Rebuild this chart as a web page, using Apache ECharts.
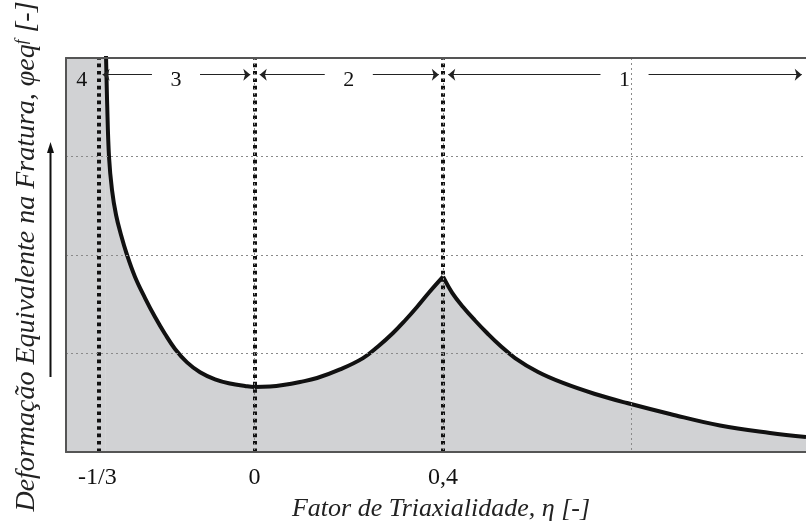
<!DOCTYPE html>
<html>
<head>
<meta charset="utf-8">
<script src="https://cdn.jsdelivr.net/npm/echarts@6/dist/echarts.min.js"></script>
<style>
html,body{margin:0;padding:0;background:#fff;}
#chart{width:806px;height:527px;}
</style>
</head>
<body>
<div id="chart"></div>
<script>
// ---- data ----
const etaLeft  = [-0.317, -0.315, -0.3129, -0.3087, -0.3024, -0.2938, -0.2832, -0.2705, -0.2535, -0.2323, -0.2111, -0.1899, -0.1687, -0.1432, -0.1156, -0.0838, -0.052, -0.0202, 0.0, 0.0329, 0.0605, 0.0965, 0.1326, 0.1814, 0.2302, 0.262, 0.2938, 0.3193, 0.3447, 0.3702, 0.4];
const phiLeft  = [4.3, 4.0, 3.574, 2.995, 2.66, 2.406, 2.203, 2.0, 1.777, 1.563, 1.37, 1.198, 1.046, 0.91, 0.81, 0.738, 0.695, 0.67, 0.66, 0.665, 0.68, 0.711, 0.751, 0.838, 0.953, 1.071, 1.208, 1.335, 1.472, 1.619, 1.78];
const etaRight = [0.4, 0.419, 0.4424, 0.4678, 0.4933, 0.5209, 0.5527, 0.6015, 0.6545, 0.7224, 0.7903, 0.8815, 0.9876, 1.0937, 1.17];
const phiRight = [1.78, 1.619, 1.472, 1.335, 1.208, 1.081, 0.954, 0.812, 0.701, 0.589, 0.497, 0.386, 0.269, 0.193, 0.152];
const boundaries = [-1/3, 0, 0.4];                    // region limits (dotted lines)
const tickValues = [-1/3, 0, 0.4];
const tickLabels = ['-1/3', '0', '0,4'];
const regionNames = ['4', '3', '2', '1'];
const regionLimits = [[-0.4, -1/3], [-1/3, 0], [0, 0.4], [0.4, 1.17]];
const xTitle = 'Fator de Triaxialidade, η [-]';
const yTitle = 'Deformação Equivalente na Fratura, φeq{sup|f} [-]';

const FONT = "'Liberation Serif','DejaVu Serif',serif";
const zip = (a, b) => a.map((v, i) => [v, b[i]]);
const leftPts = zip(etaLeft, phiLeft);
const rightPts = zip(etaRight, phiRight);

const X_MIN = -0.4, X_MAX = 1.17, Y_MAX = 4;
const arrowY = 3.83, labelY = 3.77;
const gapLo = 0.011, gapHi = 0.009, labelGap = 0.051;

const arrowLines = [];
regionLimits.forEach((r, i) => {
  if (i === 0) return;
  const mid = (r[0] + r[1]) / 2;
  arrowLines.push([{coord: [r[0] + gapLo, arrowY], symbol: 'arrow'}, {coord: [mid - labelGap, arrowY], symbol: 'none'}]);
  arrowLines.push([{coord: [mid + labelGap, arrowY], symbol: 'none'}, {coord: [r[1] - gapHi, arrowY], symbol: 'arrow'}]);
});
const regionLabelPts = regionLimits.map((r, i) => ({value: [(r[0] + r[1]) / 2, labelY], name: regionNames[i]}));

const chart = echarts.init(document.getElementById('chart'), null, {renderer: 'canvas'});
const gridLine = {show: true, lineStyle: {color: '#8a8a8a', width: 1, type: [2, 3]}};
const fill = '#d1d2d4';

chart.setOption({
  animation: false,
  backgroundColor: '#fff',
  grid: {left: 66, right: 0, top: 58, bottom: 75, containLabel: false, outerBoundsMode: 'none'},
  xAxis: [{
    type: 'value', min: X_MIN, max: X_MAX, interval: 0.4, z: 10,
    axisLine: {show: true, onZero: false, lineStyle: {color: '#555', width: 2}},
    axisTick: {show: false},
    splitLine: gridLine,
    axisLabel: {
      customValues: tickValues, margin: 14,
      formatter: v => { const i = tickValues.findIndex(t => Math.abs(t - v) < 1e-6); return i >= 0 ? tickLabels[i] : ''; },
      fontFamily: FONT, fontSize: 24, color: '#111'
    },
    name: xTitle, nameLocation: 'middle', nameGap: 44,
    nameTextStyle: {fontFamily: FONT, fontStyle: 'italic', fontSize: 26, color: '#222', padding: [0, 0, 0, 10]}
  }, {
    type: 'value', min: X_MIN, max: X_MAX, position: 'top', z: 10,
    axisLine: {show: true, onZero: false, lineStyle: {color: '#555', width: 2}},
    axisTick: {show: false}, axisLabel: {show: false}, splitLine: {show: false}
  }],
  yAxis: {
    type: 'value', min: 0, max: Y_MAX, interval: 1, z: 10,
    axisLine: {show: true, onZero: false, lineStyle: {color: '#555', width: 2}},
    axisTick: {show: false}, axisLabel: {show: false},
    splitLine: gridLine,
    name: yTitle, nameLocation: 'middle', nameGap: 25,
    nameTextStyle: {
      fontFamily: FONT, fontStyle: 'italic', fontSize: 28, color: '#222', padding: [0, 3, 0, 0],
      rich: {sup: {fontFamily: FONT, fontStyle: 'italic', fontSize: 17, color: '#222', verticalAlign: 'top', lineHeight: 28}}
    }
  },
  series: [
    { // fill of region 4 (left of curve)
      type: 'line', data: [[X_MIN, Y_MAX], [etaLeft[0], Y_MAX]], symbol: 'none',
      lineStyle: {width: 0}, areaStyle: {color: fill, opacity: 1}, silent: true, z: 1
    },
    {
      type: 'line', data: leftPts, smooth: 0.4, symbol: 'none', clip: true,
      lineStyle: {color: '#111', width: 4}, areaStyle: {color: fill, opacity: 1}, z: 2
    },
    {
      type: 'line', data: rightPts, smooth: 0.4, symbol: 'none', clip: true,
      lineStyle: {color: '#111', width: 4}, areaStyle: {color: fill, opacity: 1}, z: 2,
      markLine: {
        silent: true, symbol: 'none', label: {show: false},
        lineStyle: {color: '#111', width: 4, type: [3.6, 3.8], cap: 'butt'},
        data: boundaries.map(b => ({xAxis: b}))
      }
    },
    {
      type: 'scatter', data: regionLabelPts, symbolSize: 1, itemStyle: {opacity: 0}, silent: true, z: 5,
      label: {show: true, position: 'inside', formatter: p => p.name, fontFamily: FONT, fontSize: 22,
              color: '#111', textBorderWidth: 0, opacity: 1},
      markLine: {
        silent: true, symbolSize: [9, 7], label: {show: false},
        lineStyle: {color: '#222', width: 1, type: 'solid'},
        data: arrowLines
      }
    }
  ],
  graphic: [
    {type: 'line', shape: {x1: 50.5, y1: 377, x2: 50.5, y2: 150}, style: {stroke: '#111', lineWidth: 2}},
    {type: 'polygon', shape: {points: [[50.5, 142], [47, 153], [54, 153]]}, style: {fill: '#111'}}
  ]
});
</script>
</body>
</html>
